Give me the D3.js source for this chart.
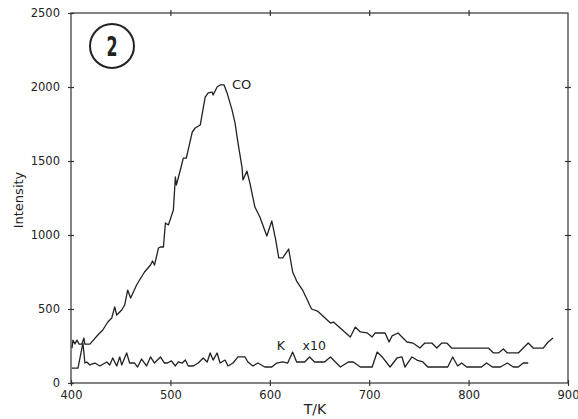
<!DOCTYPE html>
<html>
<head>
<meta charset="utf-8">
<script src="https://cdn.jsdelivr.net/npm/d3@7"></script>
<style>
  body { margin: 0; background: #fff; }
  text { font-family: "DejaVu Sans", sans-serif; fill: #222; }
</style>
</head>
<body>
<div id="chart"></div>
<script>
// CO desorption trace (T in K, intensity)
var coT = [401, 402, 404, 406, 408, 411, 413, 414, 419, 427, 432, 437, 441, 444, 446, 451, 454, 457, 460,
  466, 469, 474, 480, 482, 484, 488, 490, 493, 495, 498, 503, 505, 506, 510, 513, 516, 522, 525, 530,
  535, 538, 542, 543, 547, 550, 554, 557, 562, 565, 568, 572, 573, 577, 580, 585, 590, 597, 602, 606,
  609, 613, 619, 623, 627, 633, 642, 648, 661, 664, 681, 686, 691, 698, 703, 706, 716, 720, 723, 729,
  738, 744, 751, 756, 763, 768, 773, 778, 783, 820, 825, 830, 835, 839, 850, 860, 865, 875, 880, 885];
var coI = [236, 290, 263, 290, 263, 263, 304, 263, 263, 324, 358, 412, 439, 514, 459, 493, 527, 628, 574,
  662, 696, 750, 797, 824, 797, 912, 919, 919, 1081, 1068, 1169, 1392, 1338, 1439, 1520, 1520, 1696, 1723, 1743,
  1932, 1960, 1966, 1946, 2000, 2014, 2014, 1960, 1845, 1757, 1622, 1459, 1372, 1432, 1351, 1189, 1122, 993, 1095, 966,
  845, 845, 905, 750, 689, 628, 500, 486, 405, 412, 311, 378, 345, 338, 311, 338, 338, 277, 318, 338,
  277, 270, 236, 270, 270, 236, 270, 270, 236, 236, 203, 203, 230, 203, 203, 270, 236, 236, 277, 304];

// K trace (x10)
var kT = [401, 407, 412, 414, 416, 419, 424, 429, 436, 439, 442, 446, 449, 451, 456, 459, 464, 467, 471,
  476, 480, 484, 490, 494, 497, 501, 505, 508, 512, 515, 518, 523, 528, 533, 537, 540, 543, 547, 550,
  555, 558, 563, 568, 575, 578, 583, 588, 595, 602, 607, 613, 618, 623, 627, 635, 640, 645, 655, 661,
  671, 679, 684, 691, 703, 708, 713, 721, 728, 733, 736, 743, 748, 754, 759, 779, 784, 789, 793, 798,
  813, 818, 824, 832, 839, 845, 850, 855, 860];
var kI = [101, 101, 270, 135, 142, 122, 135, 115, 142, 122, 169, 115, 176, 122, 203, 135, 135, 108, 162,
  115, 176, 135, 176, 135, 135, 149, 115, 142, 135, 155, 115, 115, 135, 169, 142, 203, 155, 203, 135,
  155, 115, 135, 176, 176, 142, 115, 135, 108, 108, 135, 142, 135, 209, 142, 142, 176, 142, 142, 176,
  108, 142, 142, 108, 108, 209, 176, 108, 169, 176, 108, 176, 155, 142, 108, 108, 176, 115, 135, 108,
  108, 135, 108, 108, 135, 108, 108, 135, 135];

var xTicks = [400, 500, 600, 700, 800, 900];
var yTicks = [0, 500, 1000, 1500, 2000, 2500];

var margin = ({top: 13, right: 10, bottom: 36, left: 71});
var width = 578, height = 419;
var visWidth = width - margin.left - margin.right;
var visHeight = height - margin.top - margin.bottom;

var x = d3.scaleLinear().domain([400, 900]).range([0, visWidth]);
var y = d3.scaleLinear().domain([0, 2500]).range([visHeight, 0]);

function drawChart() {
  const svg = d3.select('#chart').append('svg')
      .attr('width', width)
      .attr('height', height);

  const g = svg.append('g')
      .attr('transform', `translate(${margin.left}, ${margin.top})`);

  // frame
  g.append('rect')
      .attr('width', visWidth).attr('height', visHeight)
      .attr('fill', 'none').attr('stroke', '#333').attr('stroke-width', 1.2);

  // axes, ticks cross the frame line
  function crossTicks(sel, horiz) {
    sel.select('.domain').remove();
    sel.selectAll('.tick line')
      .attr('stroke', '#333').attr('stroke-width', 1.2)
      .attr(horiz ? 'y1' : 'x1', -3).attr(horiz ? 'y2' : 'x2', 3);
    sel.selectAll('.tick text').style('font-size', '11.5px').attr('fill', '#222');
  }
  const fmt = d3.format('d');
  g.append('g').attr('transform', `translate(0, ${visHeight})`)
    .call(d3.axisBottom(x).tickValues(xTicks).tickFormat(fmt).tickSize(3).tickPadding(5))
    .call(s => crossTicks(s, true));
  g.append('g')
    .call(d3.axisTop(x).tickValues(xTicks.slice(1, -1)).tickSize(3).tickFormat(''))
    .call(s => crossTicks(s, true));
  g.append('g')
    .call(d3.axisLeft(y).tickValues(yTicks).tickFormat(fmt).tickSize(3).tickPadding(8))
    .call(s => crossTicks(s, false));
  g.append('g').attr('transform', `translate(${visWidth}, 0)`)
    .call(d3.axisRight(y).tickValues(yTicks.slice(1, -1)).tickSize(3).tickFormat(''))
    .call(s => crossTicks(s, false));

  // axis titles
  svg.append('text')
     .attr('x', 315).attr('y', 414)
     .attr('text-anchor', 'middle')
     .style('font-size', '14px')
     .text('T/K');
  svg.append('text')
     .attr('transform', 'translate(23, 200) rotate(-90)')
     .attr('text-anchor', 'middle')
     .style('font-size', '13px')
     .text('Intensity');

  // traces
  const line = d3.line().x(d => x(d[0])).y(d => y(d[1]));
  const co = coT.map((t, i) => [t, coI[i]]);
  const k = kT.map((t, i) => [t, kI[i]]);
  g.append('path').datum(co)
    .attr('d', line).attr('fill', 'none')
    .attr('stroke', '#222').attr('stroke-width', 1.3).attr('stroke-linejoin', 'round');
  g.append('path').datum(k)
    .attr('d', line).attr('fill', 'none')
    .attr('stroke', '#222').attr('stroke-width', 1.3).attr('stroke-linejoin', 'round');

  // labels on the curves
  g.append('text')
     .attr('x', x(562)).attr('y', y(2000) + 2)
     .style('font-size', '13px')
     .text('CO');
  g.append('text')
     .attr('x', x(607)).attr('y', y(225))
     .style('font-size', '12.5px')
     .text('K');
  g.append('text')
     .attr('x', x(633)).attr('y', y(225))
     .style('font-size', '12.5px')
     .text('x10');

  // panel number in circle
  svg.append('circle')
     .attr('cx', 112).attr('cy', 46).attr('r', 22)
     .attr('fill', 'none').attr('stroke', '#222').attr('stroke-width', 2);
  svg.append('text')
     .attr('x', 112).attr('y', 56)
     .attr('text-anchor', 'middle')
     .attr('textLength', 11).attr('lengthAdjust', 'spacingAndGlyphs')
     .style('font-size', '27px').style('font-weight', 'bold')
     .text('2');
}

window.onload = drawChart;
</script>
</body>
</html>
